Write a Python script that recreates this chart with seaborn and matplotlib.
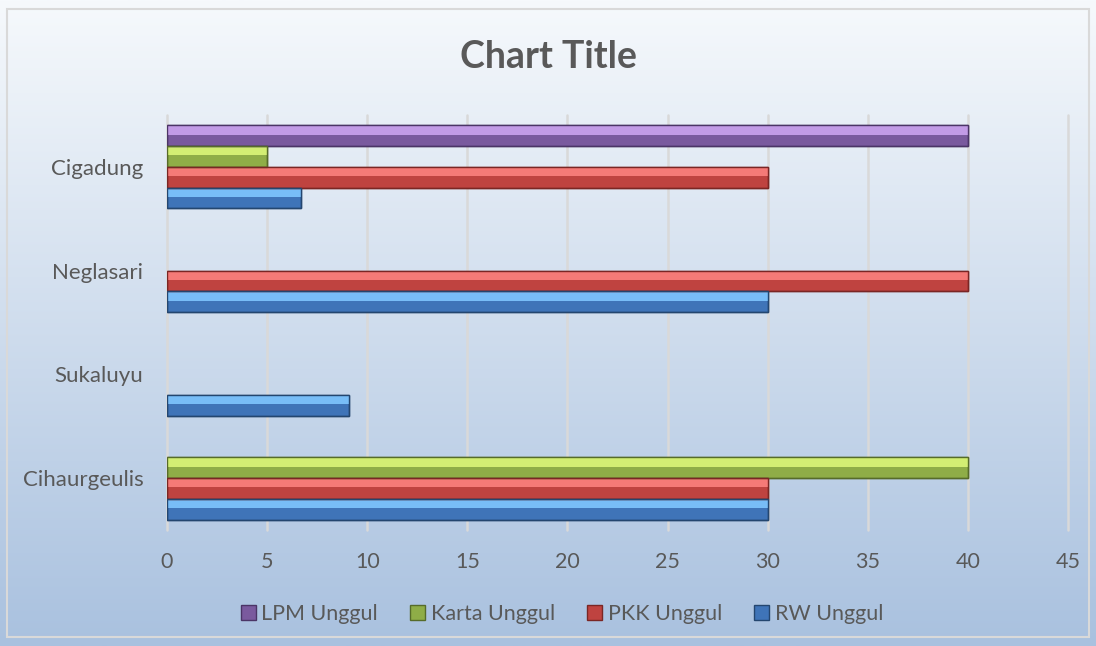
import numpy as np
import pandas as pd
import matplotlib
matplotlib.use("Agg")
import matplotlib.pyplot as plt
from matplotlib.patches import Rectangle
import seaborn as sns

# data (top to bottom as drawn)
kelurahan = ["Cigadung", "Neglasari", "Sukaluyu", "Cihaurgeulis"]
series = ["LPM Unggul", "Karta Unggul", "PKK Unggul", "RW Unggul"]
lpm = [40, 0, 0, 0]
karta = [5, 0, 0, 40]
pkk = [30, 40, 0, 30]
rw = [6.67, 30, 9.09, 30]
xticks = [0, 5, 10, 15, 20, 25, 30, 35, 40, 45]

base_col = {"LPM Unggul": "#7a5a9e", "Karta Unggul": "#8fad47",
            "PKK Unggul": "#bf4340", "RW Unggul": "#3f74b8"}
light_col = {"LPM Unggul": "#c29be6", "Karta Unggul": "#d3ee73",
             "PKK Unggul": "#f57a77", "RW Unggul": "#78bdf7"}
edge_col = {"LPM Unggul": "#4b3566", "Karta Unggul": "#566b2a",
            "PKK Unggul": "#7a2624", "RW Unggul": "#24466f"}

rows = []
for name, vals in zip(series, [lpm, karta, pkk, rw]):
    for k, v in zip(kelurahan, vals):
        rows.append({"Kelurahan": k, "Seri": name, "Nilai": v})
df = pd.DataFrame(rows)

sns.set_style("white")
plt.rcParams['font.family'] = ['Lato', 'DejaVu Sans']
text_col = "#595959"

fig = plt.figure(figsize=(10.96, 6.46), dpi=100)

# gradient background
bg = fig.add_axes([0, 0, 1, 1], zorder=-5)
grad = np.linspace(0, 1, 256).reshape(-1, 1)
top = np.array([0xf6, 0xf9, 0xfc]) / 255
bot = np.array([0xa9, 0xc1, 0xdf]) / 255
img = top + (bot - top) * grad[:, :, None]
bg.imshow(img, aspect="auto", extent=[0, 1, 0, 1])
bg.add_patch(Rectangle((7/1096, 9/646), 1082/1096, 628/646, fill=False,
                       edgecolor="#d9d9d9", linewidth=1.5))
bg.set_xlim(0, 1)
bg.set_ylim(0, 1)
bg.axis("off")

ax = fig.add_axes([167/1096, 116/646, 901/1096, 415/646])
ax.set_facecolor("none")
sns.barplot(data=df, y="Kelurahan", x="Nilai", hue="Seri", order=kelurahan,
            hue_order=series, palette=base_col, width=0.8, orient="h",
            ax=ax, legend=False, saturation=1)

# bevel look: light upper half, dark edge; drop empty bars
for cont, name in zip(ax.containers, series):
    for p in cont.patches:
        if p.get_width() <= 0:
            p.set_visible(False)
            continue
        p.set_edgecolor(edge_col[name])
        p.set_linewidth(1.0)
        x0, y0 = p.get_x(), p.get_y()
        w, h = p.get_width(), p.get_height()
        ax.add_patch(Rectangle((x0, y0), w, h * 0.45, facecolor=light_col[name],
                               edgecolor="none", zorder=p.get_zorder() + 0.1))
        ax.add_patch(Rectangle((x0, y0), w, h, fill=False, edgecolor=edge_col[name],
                               linewidth=1.0, zorder=p.get_zorder() + 0.2))

ax.set_xlim(0, 45)
ax.set_xticks(xticks)
ax.grid(axis="x", color="#d9d9d9", linewidth=1.8)
for gl in ax.get_xgridlines():
    gl.set_clip_on(False)
ax.set_axisbelow(True)
for s in ax.spines.values():
    s.set_visible(False)
ax.tick_params(axis="both", length=0, labelsize=15.5, colors=text_col)
ax.tick_params(axis="y", labelsize=16)
ax.tick_params(axis="x", pad=16)
ax.tick_params(axis="y", pad=17)
ax.set_xlabel("")
ax.set_ylabel("")

fig.text(0.5, 1 - 57/646, "Chart Title", ha="center", va="center",
         fontsize=27, fontweight="bold", color=text_col)

handles = [Rectangle((0, 0), 1, 1, facecolor=base_col[s], edgecolor=edge_col[s])
           for s in series]
fig.legend(handles, series, loc="center", bbox_to_anchor=(562/1096, 1 - 614/646),
           ncol=4, frameon=False, fontsize=15.5, labelcolor=text_col,
           handlelength=0.7, handleheight=0.7, handletextpad=0.25,
           columnspacing=1.5)

fig.savefig("out.png", dpi=100)
